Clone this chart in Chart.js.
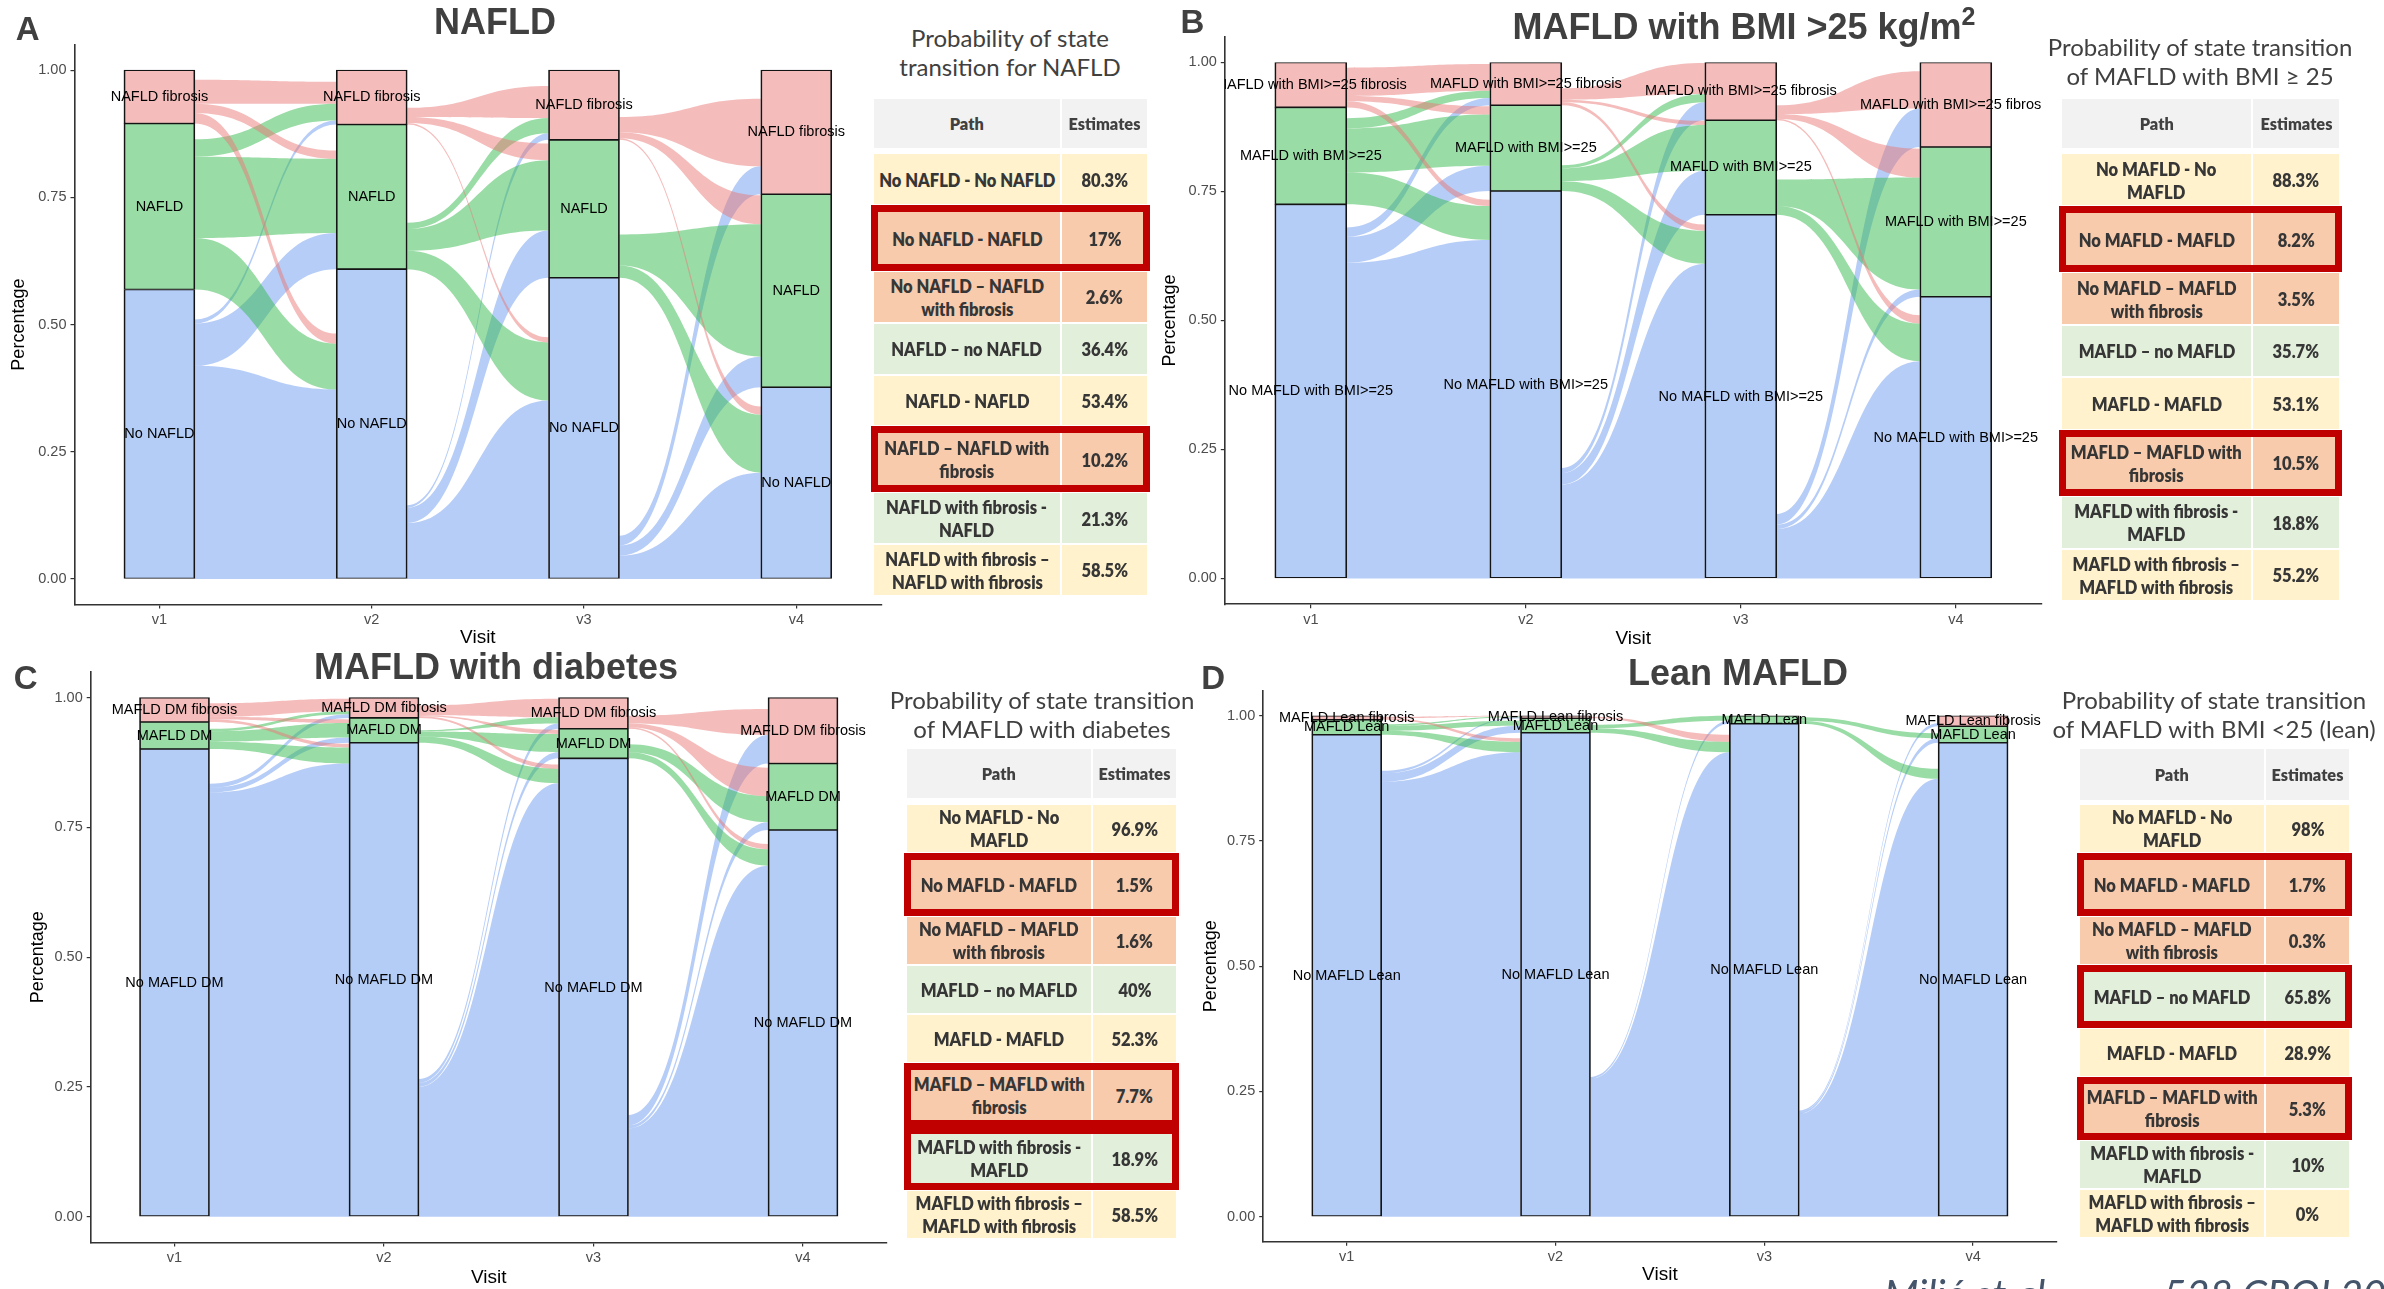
<!DOCTYPE html>
<html>
<head>
<meta charset="utf-8">
<script src="https://cdn.jsdelivr.net/npm/chart.js@4.4.1/dist/chart.umd.min.js"></script>
<style>
  html, body { margin: 0; padding: 0; background: #fff; width: 2384px; height: 1289px; overflow: hidden; }
  body { position: relative; }
  canvas { position: absolute; }
  .ptitle { position: absolute; font-family: 'Liberation Sans', Arial, sans-serif; font-weight: bold; font-size: 36px; line-height: 36px; color: #404040; white-space: nowrap; transform: translateX(-50%); }
  .ptitle sup { font-size: 25px; line-height: 0; vertical-align: 14px; }
  .letter { position: absolute; font-family: 'Liberation Sans', Arial, sans-serif; font-weight: bold; font-size: 33px; line-height: 33px; color: #404040; }
  .ttitle { position: absolute; font-family: Lato, 'Open Sans', sans-serif; font-size: 24px; line-height: 29px; color: #404040; text-align: center; white-space: nowrap; transform: translateX(-50%); }
  .cell { position: absolute; display: flex; align-items: center; justify-content: center; text-align: center; font-family: Lato, 'Open Sans', sans-serif; font-weight: 800; color: #363636; overflow: visible; }
  .cell span { display: inline-block; white-space: nowrap; font-size: 19px; line-height: 23px; transform: scaleX(0.87); }
  .cell.head span { font-size: 17px; transform: scaleX(0.96); color: #404040; }
  .box { position: absolute; border: 7px solid #c00000; box-sizing: border-box; }
  .cite { position: absolute; font-family: Lato, 'Open Sans', sans-serif; font-style: italic; font-size: 40px; line-height: 40px; color: #44546a; white-space: nowrap; }
</style>
</head>
<body>
<script>
// ---- shared axis categories ----
const visits = ['v1', 'v2', 'v3', 'v4'];
const yTickValues = [0, 0.25, 0.5, 0.75, 1];

// ---- A: NAFLD ----
const nafldStates = ['No NAFLD', 'NAFLD', 'NAFLD fibrosis'];
const nafldNone = [0.569, 0.609, 0.592, 0.377];
const nafldSteatosis = [0.326, 0.284, 0.271, 0.379];
const nafldFibrosis = [0.105, 0.107, 0.137, 0.244];
// flow shares, rows = state at earlier visit, columns = state at later visit
const nafldOut12 = [[0.419, 0.083, 0.008], [0.101, 0.160, 0.034], [0.021, 0.018, 0.047]];
const nafldIn12 = [[0.3725, 0.071, 0.008], [0.090, 0.146, 0.033], [0.020, 0.016, 0.043]];
const nafldOut23 = [[0.110, 0.030, 0.005], [0.036, 0.043, 0.012], [0.003, 0.012, 0.018]];
const nafldIn23 = [[0.351, 0.093, 0.013], [0.114, 0.138, 0.030], [0.010, 0.033, 0.063]];
const nafldOut34 = [[0.046, 0.020, 0.019], [0.024, 0.061, 0.000], [0.003, 0.012, 0.030]];
const nafldIn34 = [[0.209, 0.060, 0.055], [0.114, 0.260, 0.000], [0.016, 0.057, 0.133]];

// ---- B: MAFLD with BMI >= 25 ----
const bmiStates = ['No MAFLD with BMI>=25', 'MAFLD with BMI>=25', 'MAFLD with BMI>=25 fibrosis'];
const bmiNone = [0.725, 0.751, 0.705, 0.546];
const bmiSteatosis = [0.188, 0.166, 0.183, 0.290];
const bmiFibrosis = [0.087, 0.083, 0.112, 0.164];
const bmiOut12 = [[0.612, 0.050, 0.018], [0.062, 0.085, 0.020], [0.012, 0.010, 0.055]];
const bmiIn12 = [[0.656, 0.049, 0.014], [0.066, 0.099, 0.014], [0.012, 0.016, 0.052]];
const bmiOut23 = [[0.182, 0.022, 0.010], [0.019, 0.025, 0.006], [0.006, 0.005, 0.022]];
const bmiIn23 = [[0.610, 0.085, 0.035], [0.064, 0.089, 0.016], [0.012, 0.008, 0.060]];
const bmiOut34 = [[0.096, 0.008, 0.021], [0.017, 0.051, 0.000], [0.003, 0.009, 0.017]];
const bmiIn34 = [[0.421, 0.014, 0.075], [0.073, 0.217, 0.000], [0.016, 0.056, 0.072]];

// ---- C: MAFLD with diabetes ----
const dmStates = ['No MAFLD DM', 'MAFLD DM', 'MAFLD DM fibrosis'];
const dmNone = [0.901, 0.913, 0.883, 0.745];
const dmSteatosis = [0.052, 0.048, 0.057, 0.128];
const dmFibrosis = [0.047, 0.039, 0.060, 0.127];
const dmOut12 = [[0.817, 0.009, 0.008], [0.014, 0.020, 0.005], [0.005, 0.005, 0.026]];
const dmIn12 = [[0.873, 0.010, 0.007], [0.031, 0.028, 0.006], [0.007, 0.007, 0.024]];
const dmOut23 = [[0.250, 0.008, 0.007], [0.012, 0.010, 0.002], [0.003, 0.002, 0.019]];
const dmIn23 = [[0.835, 0.012, 0.010], [0.028, 0.035, 0.012], [0.008, 0.008, 0.036]];
const dmOut34 = [[0.170, 0.006, 0.020], [0.012, 0.015, 0.000], [0.003, 0.007, 0.015]];
const dmIn34 = [[0.676, 0.015, 0.055], [0.032, 0.050, 0.000], [0.010, 0.055, 0.050]];

// ---- D: Lean MAFLD ----
const leanStates = ['No MAFLD Lean', 'MAFLD Lean', 'MAFLD Lean fibrosis'];
const leanNone = [0.962, 0.966, 0.984, 0.946];
const leanSteatosis = [0.030, 0.029, 0.016, 0.033];
const leanFibrosis = [0.008, 0.005, 0.000, 0.021];
const leanOut12 = [[0.868, 0.017, 0.005], [0.008, 0.010, 0.003], [0.003, 0.000, 0.003]];
const leanIn12 = [[0.927, 0.014, 0.002], [0.021, 0.010, 0.002], [0.007, 0.000, 0.001]];
const leanOut23 = [[0.275, 0.004, 0.000], [0.009, 0.007, 0.000], [0.003, 0.000, 0.000]];
const leanIn23 = [[0.927, 0.006, 0.000], [0.021, 0.010, 0.000], [0.014, 0.000, 0.000]];
const leanOut34 = [[0.205, 0.004, 0.003], [0.006, 0.007, 0.000], [0.000, 0.000, 0.000]];
const leanIn34 = [[0.874, 0.009, 0.006], [0.020, 0.010, 0.000], [0.000, 0.000, 0.000]];

// ---- transition probability tables ----
const nafldPaths = [
  'No NAFLD - No NAFLD', 'No NAFLD - NAFLD', 'No NAFLD \u2013 NAFLD\nwith fibrosis', 'NAFLD \u2013 no NAFLD',
  'NAFLD - NAFLD', 'NAFLD \u2013 NAFLD with\nfibrosis', 'NAFLD with fibrosis -\nNAFLD', 'NAFLD with fibrosis \u2013\nNAFLD with fibrosis'
];
const mafldPaths = [
  'No MAFLD - No\nMAFLD', 'No MAFLD - MAFLD', 'No MAFLD \u2013 MAFLD\nwith fibrosis', 'MAFLD \u2013 no MAFLD',
  'MAFLD - MAFLD', 'MAFLD \u2013 MAFLD with\nfibrosis', 'MAFLD with fibrosis -\nMAFLD', 'MAFLD with fibrosis \u2013\nMAFLD with fibrosis'
];
const nafldEstimates = ['80.3%', '17%', '2.6%', '36.4%', '53.4%', '10.2%', '21.3%', '58.5%'];
const bmiEstimates = ['88.3%', '8.2%', '3.5%', '35.7%', '53.1%', '10.5%', '18.8%', '55.2%'];
const dmEstimates = ['96.9%', '1.5%', '1.6%', '40%', '52.3%', '7.7%', '18.9%', '58.5%'];
const leanEstimates = ['98%', '1.7%', '0.3%', '65.8%', '28.9%', '5.3%', '10%', '0%'];
const nafldHighlighted = [1, 5];
const bmiHighlighted = [1, 5];
const dmHighlighted = [1, 5, 6];
const leanHighlighted = [1, 3, 5];

// ---- styling ----
const stateFills = ['#b4cdf7', '#99dca6', '#f4bcbb'];
const flowFills = ['rgba(110,155,240,0.5)', 'rgba(51,185,77,0.5)', 'rgba(233,121,119,0.5)'];
const rowTones = ['#fff2cc', '#f8cbad', '#f8cbad', '#e2efda', '#fff2cc', '#f8cbad', '#e2efda', '#fff2cc'];
const sans = "'Liberation Sans', Arial, sans-serif";

const panels = [
  { key: 'A', letter: 'A', title: 'NAFLD', states: nafldStates,
    strata: [nafldNone, nafldSteatosis, nafldFibrosis],
    transitions: [{ out: nafldOut12, in: nafldIn12 }, { out: nafldOut23, in: nafldIn23 }, { out: nafldOut34, in: nafldIn34 }],
    layout: { area: { l: 74.5, r: 881.2, t: 44.6, b: 604.5 }, yTitleX: 19.7, xTitleY: 638, bar: 71,
              titleX: 495, titleBase: 34, letterX: 15.7, letterBase: 39.4 } },
  { key: 'B', letter: 'B', title: 'MAFLD with BMI >25 kg/m', sup: '2', states: bmiStates,
    strata: [bmiNone, bmiSteatosis, bmiFibrosis],
    transitions: [{ out: bmiOut12, in: bmiIn12 }, { out: bmiOut23, in: bmiIn23 }, { out: bmiOut34, in: bmiIn34 }],
    layout: { area: { l: 1224.8, r: 2041.8, t: 36.0, b: 604.2 }, yTitleX: 1170, xTitleY: 638.5, bar: 72,
              titleX: 1744, titleBase: 39.4, letterX: 1180.5, letterBase: 33.2 } },
  { key: 'C', letter: 'C', title: 'MAFLD with diabetes', states: dmStates,
    strata: [dmNone, dmSteatosis, dmFibrosis],
    transitions: [{ out: dmOut12, in: dmIn12 }, { out: dmOut23, in: dmIn23 }, { out: dmOut34, in: dmIn34 }],
    layout: { area: { l: 90.7, r: 886.8, t: 671.1, b: 1242.6 }, yTitleX: 37.9, xTitleY: 1277.4, bar: 70,
              titleX: 496, titleBase: 679.3, letterX: 13.7, letterBase: 688.8 } },
  { key: 'D', letter: 'D', title: 'Lean MAFLD', states: leanStates,
    strata: [leanNone, leanSteatosis, leanFibrosis],
    transitions: [{ out: leanOut12, in: leanIn12 }, { out: leanOut23, in: leanIn23 }, { out: leanOut34, in: leanIn34 }],
    layout: { area: { l: 1263.2, r: 2056.6, t: 690.2, b: 1241.7 }, yTitleX: 1210.9, xTitleY: 1275, bar: 70,
              titleX: 1738, titleBase: 685.5, letterX: 1201.3, letterBase: 688.8 } }
];

const tables = [
  { title: 'Probability of state\ntransition for NAFLD', paths: nafldPaths, estimates: nafldEstimates, highlighted: nafldHighlighted,
    layout: { left: 872.7, right: 1147.7, split: 1061.3, headTop: 98.3, headBottom: 149.3, rowsTop: 153.4, rowsBottom: 595.8, titleX: 1010, titleBase: 46.4 } },
  { title: 'Probability of state transition\nof MAFLD with BMI  \u2265 25', paths: mafldPaths, estimates: bmiEstimates, highlighted: bmiHighlighted,
    layout: { left: 2061, right: 2340, split: 2252, headTop: 97.8, headBottom: 149.3, rowsTop: 153.4, rowsBottom: 601, titleX: 2200, titleBase: 56 } },
  { title: 'Probability of state transition\nof MAFLD with diabetes', paths: mafldPaths, estimates: dmEstimates, highlighted: dmHighlighted,
    layout: { left: 906, right: 1177, split: 1092, headTop: 748.4, headBottom: 799.4, rowsTop: 803.5, rowsBottom: 1239, titleX: 1042, titleBase: 708.3 } },
  { title: 'Probability of state transition\nof MAFLD with BMI <25 (lean)', paths: mafldPaths, estimates: leanEstimates, highlighted: leanHighlighted,
    layout: { left: 2079.3, right: 2350, split: 2265, headTop: 748.4, headBottom: 800.6, rowsTop: 803.5, rowsBottom: 1238, titleX: 2214, titleBase: 708.3 } }
];

// cumulative lower edge of every state at a visit
function stackBases(strata, visit) {
  const bases = [];
  let c = 0;
  strata.forEach((arr, s) => { bases[s] = c; c += arr[visit]; });
  return bases;
}

function ribbon(ctx, x0, x1, lt, lb, rt, rb, color) {
  const xm = (x0 + x1) / 2;
  ctx.beginPath();
  ctx.moveTo(x0, lt);
  ctx.bezierCurveTo(xm, lt, xm, rt, x1, rt);
  ctx.lineTo(x1, rb);
  ctx.bezierCurveTo(xm, rb, xm, lb, x0, lb);
  ctx.closePath();
  ctx.fillStyle = color;
  ctx.fill();
}

// flows between adjacent visits and the state labels on each stratum
function makeAlluvial(panel) {
  return {
    id: 'alluvial' + panel.key,
    beforeDatasetsDraw(chart) {
      const { ctx, chartArea: a, scales: { x, y } } = chart;
      const half = panel.layout.bar / 2;
      ctx.save();
      ctx.beginPath();
      ctx.rect(a.left, a.top, a.width, a.height);
      ctx.clip();
      panel.transitions.forEach((tr, k) => {
        const x0 = x.getPixelForValue(k + 1) + half;
        const x1 = x.getPixelForValue(k + 2) - half;
        const baseL = stackBases(panel.strata, k);
        const baseR = stackBases(panel.strata, k + 1);
        const n = tr.out.length;
        const left = [], right = [];
        for (let s = 0; s < n; s++) {
          let c = baseL[s];
          left[s] = [];
          for (let t = 0; t < n; t++) { left[s][t] = [c, c + tr.out[s][t]]; c += tr.out[s][t]; }
        }
        for (let s = 0; s < n; s++) right[s] = [];
        for (let t = 0; t < n; t++) {
          let c = baseR[t];
          for (let s = 0; s < n; s++) { right[s][t] = [c, c + tr.in[s][t]]; c += tr.in[s][t]; }
        }
        for (let s = 0; s < n; s++) {
          for (let t = 0; t < n; t++) {
            const [l0, l1] = left[s][t];
            const [r0, r1] = right[s][t];
            if (l1 - l0 <= 0 && r1 - r0 <= 0) continue;
            ribbon(ctx, x0, x1, y.getPixelForValue(l1), y.getPixelForValue(l0),
                   y.getPixelForValue(r1), y.getPixelForValue(r0), flowFills[s]);
          }
        }
      });
      ctx.restore();
    },
    afterDatasetsDraw(chart) {
      const { ctx, chartArea: a, scales: { x, y } } = chart;
      ctx.save();
      ctx.beginPath();
      ctx.rect(a.left, a.top, a.width, a.height);
      ctx.clip();
      ctx.font = '14.5px ' + sans;
      ctx.fillStyle = '#000';
      ctx.textAlign = 'center';
      ctx.textBaseline = 'middle';
      visits.forEach((v, i) => {
        const bases = stackBases(panel.strata, i);
        panel.states.forEach((name, s) => {
          const size = panel.strata[s][i];
          if (size <= 0) return;
          ctx.fillText(name, x.getPixelForValue(i + 1), y.getPixelForValue(bases[s] + size / 2));
        });
      });
      ctx.restore();
    }
  };
}

function buildPanel(panel) {
  const g = panel.layout;
  const area = g.area;
  const yTitleSize = 18, xTitleSize = 19;
  const canvasLeft = Math.floor(g.yTitleX - yTitleSize * 0.6 - 4);
  const canvasTop = Math.floor(area.t - 12);
  const canvasRight = Math.ceil(area.r + 12);
  const canvasBottom = Math.round(g.xTitleY + xTitleSize * 0.6 + 4);
  const w = canvasRight - canvasLeft;
  const h = canvasBottom - canvasTop;
  const yAxisW = area.l - canvasLeft;
  const xAxisH = canvasBottom - area.b;

  const canvas = document.createElement('canvas');
  canvas.width = w; canvas.height = h;
  canvas.style.left = canvasLeft + 'px';
  canvas.style.top = canvasTop + 'px';
  canvas.style.width = w + 'px';
  canvas.style.height = h + 'px';
  document.body.appendChild(canvas);

  const datasets = panel.states.map((name, s) => ({
    label: name,
    data: visits.map((v, i) => {
      const lo = stackBases(panel.strata, i)[s];
      const size = panel.strata[s][i];
      return size > 0 ? { x: i + 1, y: [lo, lo + size] } : null;
    }).filter(Boolean),
    backgroundColor: stateFills[s],
    borderColor: '#141414',
    borderWidth: { left: 1.7, right: 1.7, top: 1.1, bottom: 1.1 },
    borderSkipped: false,
    barThickness: g.bar,
    grouped: false
  }));

  new Chart(canvas, {
    type: 'bar',
    data: { datasets },
    plugins: [makeAlluvial(panel)],
    options: {
      responsive: false,
      animation: false,
      devicePixelRatio: 1,
      layout: { autoPadding: false, padding: { left: 0, top: area.t - canvasTop, right: canvasRight - area.r, bottom: 0 } },
      plugins: { legend: { display: false }, tooltip: { enabled: false } },
      scales: {
        x: {
          type: 'linear', min: 0.6, max: 4.4, offset: false,
          afterBuildTicks: (s) => { s.ticks = visits.map((v, i) => ({ value: i + 1 })); },
          afterFit: (s) => { s.height = xAxisH; },
          ticks: { callback: (v) => visits[Math.round(v) - 1], color: '#4d4d4d', font: { family: sans, size: 14.5 }, padding: 3, autoSkip: false, maxRotation: 0 },
          grid: { drawOnChartArea: false, offset: false, tickLength: 4, color: '#333333', lineWidth: 1.2 },
          border: { display: true, color: '#333333', width: 1.6 },
          title: { display: true, text: 'Visit', color: '#000', font: { family: sans, size: xTitleSize }, padding: { top: 4, bottom: 4 } }
        },
        y: {
          type: 'linear', min: -0.05, max: 1.05,
          afterBuildTicks: (s) => { s.ticks = yTickValues.map((v) => ({ value: v })); },
          afterFit: (s) => { s.width = yAxisW; },
          ticks: { callback: (v) => Number(v).toFixed(2), color: '#4d4d4d', font: { family: sans, size: 14.5 }, padding: 4 },
          grid: { drawOnChartArea: false, tickLength: 4, color: '#333333', lineWidth: 1.2 },
          border: { display: true, color: '#333333', width: 1.6 },
          title: { display: true, text: 'Percentage', color: '#000', font: { family: sans, size: yTitleSize }, padding: { top: 4, bottom: 4 } }
        }
      }
    }
  });

  // panel heading and letter
  const t = document.createElement('div');
  t.className = 'ptitle';
  t.style.left = g.titleX + 'px';
  t.style.top = (g.titleBase - 30.5) + 'px';
  t.appendChild(document.createTextNode(panel.title));
  if (panel.sup) { const sp = document.createElement('sup'); sp.textContent = panel.sup; t.appendChild(sp); }
  document.body.appendChild(t);

  const l = document.createElement('div');
  l.className = 'letter';
  l.style.left = g.letterX + 'px';
  l.style.top = (g.letterBase - 27.9) + 'px';
  l.textContent = panel.letter;
  document.body.appendChild(l);
}

function addCell(x, y, w, h, bg, text, extraClass) {
  const d = document.createElement('div');
  d.className = 'cell' + (extraClass ? ' ' + extraClass : '');
  d.style.left = (x + 1) + 'px';
  d.style.top = (y + 1) + 'px';
  d.style.width = (w - 2) + 'px';
  d.style.height = (h - 2) + 'px';
  d.style.background = bg;
  const sp = document.createElement('span');
  text.split('\n').forEach((line, i) => {
    if (i) sp.appendChild(document.createElement('br'));
    sp.appendChild(document.createTextNode(line));
  });
  d.appendChild(sp);
  document.body.appendChild(d);
}

function buildTable(tb) {
  const g = tb.layout;
  const title = document.createElement('div');
  title.className = 'ttitle';
  title.style.left = g.titleX + 'px';
  title.style.top = (g.titleBase - 23.8) + 'px';
  tb.title.split('\n').forEach((line, i) => {
    if (i) title.appendChild(document.createElement('br'));
    title.appendChild(document.createTextNode(line));
  });
  document.body.appendChild(title);

  addCell(g.left, g.headTop, g.split - g.left, g.headBottom - g.headTop, '#f2f2f2', 'Path', 'head');
  addCell(g.split, g.headTop, g.right - g.split, g.headBottom - g.headTop, '#f2f2f2', 'Estimates', 'head');

  const boxed = new Set(tb.highlighted);
  const extra = 14;
  const rowH = (g.rowsBottom - g.rowsTop - extra * boxed.size) / tb.paths.length;
  let y = g.rowsTop;
  tb.paths.forEach((p, i) => {
    const h = rowH + (boxed.has(i) ? extra : 0);
    addCell(g.left, y, g.split - g.left, h, rowTones[i], p);
    addCell(g.split, y, g.right - g.split, h, rowTones[i], tb.estimates[i]);
    if (boxed.has(i)) {
      const b = document.createElement('div');
      b.className = 'box';
      b.style.left = (g.left - 2) + 'px';
      b.style.top = y + 'px';
      b.style.width = (g.right - g.left + 4) + 'px';
      b.style.height = h + 'px';
      document.body.appendChild(b);
    }
    y += h;
  });
}

panels.forEach(buildPanel);
tables.forEach(buildTable);

// source line along the bottom edge
[['Mili\u0107 et al.', 1884], ['528 CROI 2024', 2163]].forEach(([txt, x]) => {
  const c = document.createElement('div');
  c.className = 'cite';
  c.style.left = x + 'px';
  c.style.top = '1274px';
  c.textContent = txt;
  document.body.appendChild(c);
});
</script>
</body>
</html>
